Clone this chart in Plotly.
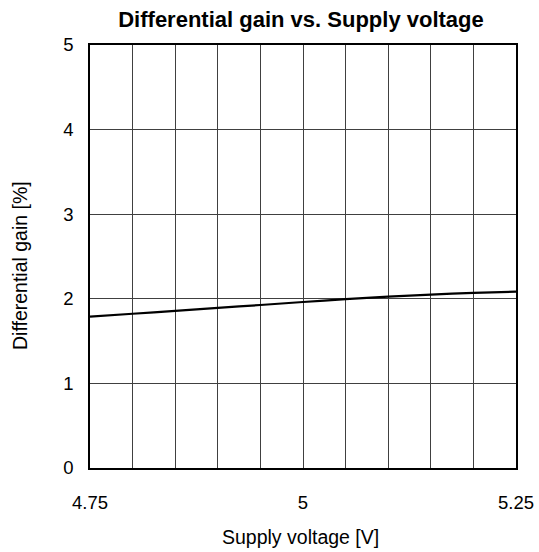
import plotly.graph_objects as go

supply_voltage = [4.75, 4.80, 4.85, 4.90, 4.95, 5.00, 5.05, 5.10, 5.15, 5.20, 5.25]
differential_gain = [1.79, 1.823, 1.857, 1.892, 1.927, 1.962, 1.995, 2.025, 2.05, 2.07, 2.085]
x_ticks = [4.75, 5, 5.25]
x_tick_text = ["4.75", "5", "5.25"]
y_ticks = [0, 1, 2, 3, 4, 5]

FONT = "Liberation Sans, Arial, sans-serif"
W, H = 539, 552
L, R, T, B = 90, 23, 45, 84

fig = go.Figure()
fig.add_trace(go.Scatter(x=supply_voltage, y=differential_gain, mode="lines",
                         line=dict(color="black", width=2.2, shape="spline", smoothing=0.6),
                         showlegend=False))

fig.update_layout(
    template="none",
    width=W, height=H,
    margin=dict(l=L, r=R, t=T, b=B, autoexpand=False),
    paper_bgcolor="white", plot_bgcolor="white",
    font=dict(family=FONT, color="black", size=18),
    title=dict(text="<b>Differential gain vs. Supply voltage</b>", x=301 / W, xref="container",
               xanchor="center", y=1 - 19 / H, yref="container", yanchor="middle",
               font=dict(size=22, family=FONT, color="black")),
    annotations=[
        dict(text="Supply voltage [V]", xref="paper", yref="paper", x=(300 - 90) / 426, y=0,
             yshift=-(537 - 468), xanchor="center", yanchor="middle", showarrow=False,
             font=dict(size=19.5, family=FONT, color="black")),
        dict(text="Differential gain [%]", xref="paper", yref="paper", x=0, y=(468 - 266) / (468 - 45),
             xshift=-(90 - 20), xanchor="center", yanchor="middle", textangle=-90, showarrow=False,
             font=dict(size=19.5, family=FONT, color="black")),
    ],
)
fig.update_xaxes(
    range=[4.75, 5.25], tickvals=x_ticks, ticktext=x_tick_text, automargin=False,
    showgrid=True, gridcolor="#404040", gridwidth=1,
    minor=dict(dtick=0.05, tick0=4.75, showgrid=True, gridcolor="#404040", gridwidth=1, ticks=""),
    showline=True, linecolor="black", linewidth=1.5, mirror=True,
    ticks="", ticklabelstandoff=17, zeroline=False,
    tickfont=dict(size=18.5),
)
fig.update_yaxes(
    range=[0, 5], tickvals=y_ticks, automargin=False,
    showgrid=True, gridcolor="#404040", gridwidth=1,
    showline=True, linecolor="black", linewidth=1.5, mirror=True,
    ticks="", ticklabelstandoff=11, zeroline=False,
    tickfont=dict(size=18.5),
)

fig.write_html("out.html", config={"displayModeBar": False},
               post_script="document.body.style.margin='0';document.body.style.padding='0';")
